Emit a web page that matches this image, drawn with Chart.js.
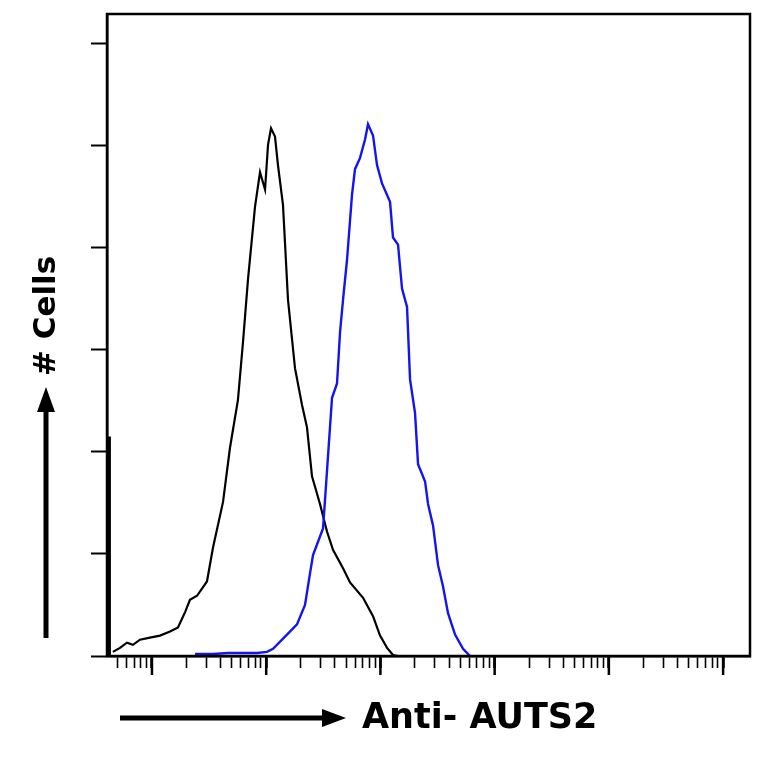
<!DOCTYPE html>
<html>
<head>
<meta charset="utf-8">
<script src="https://cdn.jsdelivr.net/npm/chart.js@4.4.1/dist/chart.umd.min.js"></script>
<style>
  html, body { margin: 0; padding: 0; background: #fff; }
  #wrap { width: 764px; height: 764px; }
</style>
</head>
<body>
<div id="wrap"><canvas id="histChart" width="764" height="764"></canvas></div>
<script>
// isotype control (black)
const controlX = [4.55, 5.25, 6.04, 6.82, 7.85, 9.6, 11.75, 14.4, 16.9, 19.5, 21.5, 24.8, 30.3, 34.2, 41.9, 48.2,
  56.6, 62.7, 69.3, 79.8, 88.3, 97.7, 103.8, 110.2, 119.4, 126.8, 140.3, 155.2, 178.7, 205.9, 227.6, 251.8,
  295.8, 340.6, 384.4, 470.6, 541.9, 704.7, 861.5, 992.6, 1143, 1289, 1426];
const controlY = [0.04, 0.08, 0.13, 0.11, 0.16, 0.18, 0.20, 0.24, 0.28, 0.43, 0.55, 0.59, 0.73, 1.06, 1.51, 2.04,
  2.51, 3.08, 3.69, 4.40, 4.74, 4.57, 5.01, 5.17, 5.09, 4.81, 4.42, 3.49, 2.82, 2.46, 2.24, 1.76,
  1.49, 1.22, 1.04, 0.86, 0.72, 0.57, 0.39, 0.20, 0.08, 0.01, 0];

// Anti-AUTS2 stained (blue)
const stainedX = [23.8, 34.2, 46.3, 59.0, 83.1, 101.6, 114.7, 152.1, 186.1, 218.7, 241.9, 257.0, 314.5, 340.6,
  377.0, 416.9, 443.0, 470.6, 510.0, 564.0, 599.3, 663.0, 733.3, 778.9, 861.5, 933.8, 1033, 1214, 1289,
  1426, 1546, 1710, 1817, 2010, 2135, 2459, 2612, 2888, 3195, 3534, 3908, 4501, 5289, 6089];
const stainedY = [0.02, 0.02, 0.03, 0.03, 0.03, 0.04, 0.07, 0.21, 0.31, 0.50, 0.81, 0.99, 1.25, 1.81,
  2.53, 2.67, 3.17, 3.49, 3.88, 4.52, 4.77, 4.88, 5.06, 5.21, 5.10, 4.81, 4.63, 4.45, 4.10,
  4.03, 3.60, 3.42, 2.71, 2.38, 1.88, 1.71, 1.49, 1.28, 0.89, 0.68, 0.42, 0.21, 0.07, 0];

// first-channel pile-up of the control
const spikeX = [4.2, 4.2];
const spikeY = [0, 2.15];

const xMin = 4.04;
const xMax = 1.72e6;
const yMax = 6.29;
const xTicks = [5, 6, 7, 8, 9, 10, 20, 30, 40, 50, 60, 70, 80, 90, 100, 200, 300, 400, 500, 600, 700, 800, 900,
  1000, 2000, 3000, 4000, 5000, 6000, 7000, 8000, 9000, 10000, 20000, 30000, 40000, 50000, 60000, 70000, 80000, 90000,
  100000, 200000, 300000, 400000, 500000, 600000, 700000, 800000, 900000, 1000000];
const yTicks = [0, 1, 2, 3, 4, 5, 6];

const xTitle = "Anti- AUTS2";
const yTitle = "# Cells";

function toPoints(xs, ys) {
  return xs.map((x, i) => ({ x: x, y: ys[i] }));
}

function isDecade(v) {
  const l = Math.log10(v);
  return Math.abs(l - Math.round(l)) < 1e-9;
}

const decorPlugin = {
  id: "decor",
  afterDraw(chart) {
    const ctx = chart.ctx;
    const { left, top, right, bottom } = chart.chartArea;
    const xs = chart.scales.x;
    ctx.save();
    ctx.strokeStyle = "#000";
    ctx.fillStyle = "#000";

    // frame
    ctx.lineWidth = 2.5;
    ctx.strokeRect(left, top, right - left, bottom - top);

    // longer decade ticks
    ctx.lineWidth = 2.5;
    xTicks.filter(isDecade).forEach((v) => {
      const px = xs.getPixelForValue(v);
      ctx.beginPath();
      ctx.moveTo(px, bottom);
      ctx.lineTo(px, bottom + 19);
      ctx.stroke();
    });

    // horizontal arrow + label
    ctx.lineWidth = 5;
    ctx.beginPath();
    ctx.moveTo(120, 718);
    ctx.lineTo(326, 718);
    ctx.stroke();
    ctx.beginPath();
    ctx.moveTo(346, 718);
    ctx.lineTo(322, 709);
    ctx.lineTo(322, 727);
    ctx.closePath();
    ctx.fill();

    ctx.font = "bold 35px 'DejaVu Sans'";
    ctx.textBaseline = "middle";
    ctx.textAlign = "left";
    ctx.fillText(xTitle, 362, 719);

    // vertical arrow + label
    ctx.beginPath();
    ctx.moveTo(46, 638);
    ctx.lineTo(46, 408);
    ctx.stroke();
    ctx.beginPath();
    ctx.moveTo(46, 387);
    ctx.lineTo(37, 412);
    ctx.lineTo(55, 412);
    ctx.closePath();
    ctx.fill();

    ctx.translate(46, 316);
    ctx.rotate(-Math.PI / 2);
    ctx.font = "bold 31px 'DejaVu Sans'";
    ctx.textAlign = "center";
    ctx.fillText(yTitle, 0, 1);
    ctx.restore();
  },
};

new Chart(document.getElementById("histChart"), {
  type: "line",
  data: {
    datasets: [
      {
        label: "Anti-AUTS2",
        data: toPoints(stainedX, stainedY),
        borderColor: "#1414ee",
        borderWidth: 2.4,
        pointRadius: 0,
        fill: false,
      },
      {
        label: "Control",
        data: toPoints(controlX, controlY),
        borderColor: "#000",
        borderWidth: 2.2,
        pointRadius: 0,
        fill: false,
      },
      {
        label: "Pile-up",
        data: toPoints(spikeX, spikeY),
        borderColor: "#000",
        borderWidth: 4,
        pointRadius: 0,
        fill: false,
      },
    ],
  },
  options: {
    responsive: false,
    animation: false,
    devicePixelRatio: 1,
    layout: { padding: { top: 14, right: 14, left: 0, bottom: 0 } },
    plugins: {
      legend: { display: false },
      tooltip: { enabled: false },
    },
    scales: {
      x: {
        type: "logarithmic",
        min: xMin,
        max: xMax,
        afterBuildTicks: (scale) => {
          scale.ticks = xTicks.map((v) => ({ value: v, major: isDecade(v) }));
        },
        afterFit: (scale) => { scale.height = 108; },
        ticks: { display: false },
        grid: {
          drawOnChartArea: false,
          drawTicks: true,
          tickLength: 12,
          tickColor: "#000",
          tickWidth: (c) => (c.tick && c.tick.major ? 2.5 : 1.6),
        },
        border: { color: "#000", width: 2.5 },
      },
      y: {
        type: "linear",
        min: 0,
        max: yMax,
        afterBuildTicks: (scale) => {
          scale.ticks = yTicks.map((v) => ({ value: v }));
        },
        afterFit: (scale) => { scale.width = 107; },
        ticks: { display: false },
        grid: {
          drawOnChartArea: false,
          drawTicks: true,
          tickLength: 16,
          tickColor: "#000",
          tickWidth: 2,
        },
        border: { color: "#000", width: 2.5 },
      },
    },
  },
  plugins: [decorPlugin],
});
</script>
</body>
</html>
